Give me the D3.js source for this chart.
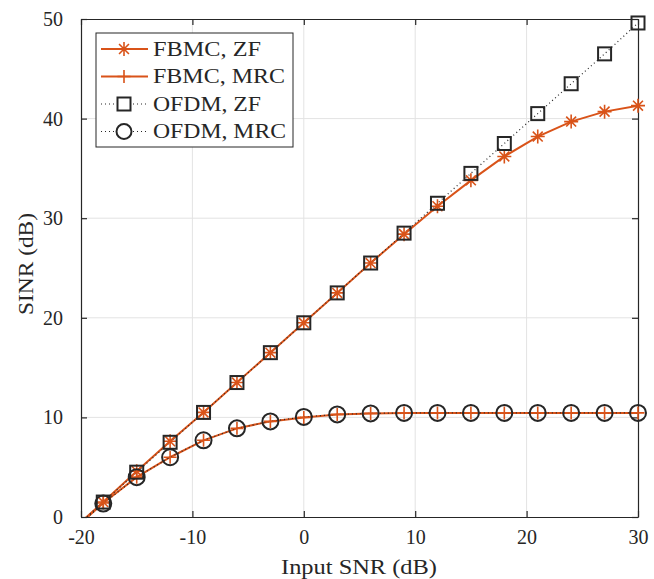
<!DOCTYPE html>
<html>
<head>
<meta charset="utf-8">
<script src="https://cdn.jsdelivr.net/npm/d3@7"></script>
<style>
  body { margin: 0; background: #fff; }
  text { font-family: "Liberation Serif", "DejaVu Serif", serif; fill: #262626; }
</style>
</head>
<body>
<script>
'use strict';

// input SNR (dB); first point has no marker, the line starts at the corner
const snr = [-20, -18, -15, -12, -9, -6, -3, 0, 3, 6, 9, 12, 15, 18, 21, 24, 27, 30];
const fbmcZF  = [-0.5, 1.5, 4.6, 7.6, 10.5, 13.5, 16.5, 19.5, 22.5, 25.5, 28.4, 31.2, 33.8, 36.2, 38.2, 39.7, 40.7, 41.3];
const fbmcMRC = [-0.6, 1.4, 4.0, 6.0, 7.7, 8.9, 9.6, 10.0, 10.3, 10.4, 10.45, 10.45, 10.45, 10.45, 10.45, 10.45, 10.45, 10.45];
const ofdmZF  = [-0.5, 1.5, 4.5, 7.5, 10.5, 13.5, 16.5, 19.5, 22.5, 25.5, 28.5, 31.5, 34.5, 37.5, 40.5, 43.5, 46.5, 49.6];
const ofdmMRC = [-0.6, 1.35, 4.0, 6.0, 7.7, 8.9, 9.6, 10.05, 10.3, 10.4, 10.45, 10.45, 10.45, 10.45, 10.45, 10.45, 10.45, 10.45];

const seriesNames = ["FBMC, ZF", "FBMC, MRC", "OFDM, ZF", "OFDM, MRC"];
const xTicks = [-20, -10, 0, 10, 20, 30];
const yTicks = [0, 10, 20, 30, 40, 50];

(function() {
  const orange = "#d95319";
  const dark = "#262626";

  const width = 654, height = 579;
  const mLeft = 81, mRight = 638, mTop = 19, mBottom = 517;

  const svg = d3.select("body").append("svg")
    .attr("width", width)
    .attr("height", height);

  const x = d3.scaleLinear().domain([-20, 30]).range([mLeft, mRight]);
  const y = d3.scaleLinear().domain([0, 50]).range([mBottom, mTop]);

  svg.append("defs").append("clipPath").attr("id", "clip")
    .append("rect")
    .attr("x", mLeft).attr("y", mTop)
    .attr("width", mRight - mLeft).attr("height", mBottom - mTop);

  // grid
  let grid = svg.append("g");
  grid.selectAll(".gx")
    .data(xTicks.slice(1, -1))
    .enter().append("line")
    .attr("x1", d => x(d)).attr("x2", d => x(d))
    .attr("y1", mTop).attr("y2", mBottom)
    .attr("stroke", "#e3e3e3").attr("stroke-width", 1);
  grid.selectAll(".gy")
    .data(yTicks.slice(1, -1))
    .enter().append("line")
    .attr("y1", d => y(d)).attr("y2", d => y(d))
    .attr("x1", mLeft).attr("x2", mRight)
    .attr("stroke", "#e3e3e3").attr("stroke-width", 1);

  // axes
  let fmt = d => String(d);
  let xAxis = d3.axisBottom(x).tickValues(xTicks).tickFormat(fmt).tickSizeInner(-6).tickSizeOuter(0).tickPadding(16);
  let yAxis = d3.axisLeft(y).tickValues(yTicks).tickFormat(fmt).tickSizeInner(-6).tickSizeOuter(0).tickPadding(18);

  let gx = svg.append("g").attr("transform", "translate(0," + mBottom + ")").call(xAxis);
  let gy = svg.append("g").attr("transform", "translate(" + mLeft + ",0)").call(yAxis);
  let gx2 = svg.append("g").attr("transform", "translate(0," + mTop + ")")
    .call(d3.axisTop(x).tickValues(xTicks).tickSizeInner(-6).tickSizeOuter(0).tickFormat(""));
  let gy2 = svg.append("g").attr("transform", "translate(" + mRight + ",0)")
    .call(d3.axisRight(y).tickValues(yTicks).tickSizeInner(-6).tickSizeOuter(0).tickFormat(""));

  [gx, gy, gx2, gy2].forEach(g => {
    g.select(".domain").attr("stroke", dark).attr("stroke-width", 1.2);
    g.selectAll(".tick line").attr("stroke", dark).attr("stroke-width", 1.2);
    g.selectAll(".tick text")
      .attr("font-size", 20)
      .attr("font-family", "Liberation Serif, DejaVu Serif, serif")
      .attr("fill", dark);
  });
  gx.selectAll(".tick text").attr("dy", "0.55em");

  svg.append("text")
    .attr("x", 281)
    .attr("y", 574)
    .attr("font-size", 20)
    .attr("textLength", 156)
    .attr("lengthAdjust", "spacingAndGlyphs")
    .text("Input SNR (dB)");
  svg.append("text")
    .attr("transform", "translate(33,315) rotate(-90)")
    .attr("font-size", 20)
    .attr("textLength", 102)
    .attr("lengthAdjust", "spacingAndGlyphs")
    .text("SINR (dB)");

  // marker drawing helpers
  function asterisk(g, cx, cy, s) {
    let p = "";
    for (let i = 0; i < 4; i++) {
      let a = i * Math.PI / 4;
      let dx = Math.sin(a) * s, dy = Math.cos(a) * s;
      p += "M" + (cx - dx) + "," + (cy - dy) + "L" + (cx + dx) + "," + (cy + dy);
    }
    g.append("path").attr("d", p).attr("stroke", orange).attr("stroke-width", 1.6).attr("fill", "none");
  }
  function plus(g, cx, cy, s) {
    g.append("path")
      .attr("d", "M" + (cx - s) + "," + cy + "L" + (cx + s) + "," + cy + "M" + cx + "," + (cy - s) + "L" + cx + "," + (cy + s))
      .attr("stroke", orange).attr("stroke-width", 1.6).attr("fill", "none");
  }
  function square(g, cx, cy, s) {
    g.append("rect").attr("x", cx - s).attr("y", cy - s).attr("width", 2 * s).attr("height", 2 * s)
      .attr("stroke", dark).attr("stroke-width", 2).attr("fill", "none");
  }
  function circle(g, cx, cy, s) {
    g.append("circle").attr("cx", cx).attr("cy", cy).attr("r", s)
      .attr("stroke", dark).attr("stroke-width", 2).attr("fill", "none");
  }

  const series = [
    { name: seriesNames[0], values: fbmcZF, color: orange, width: 2, dash: null, marker: asterisk, size: 7, tl: 108 },
    { name: seriesNames[1], values: fbmcMRC, color: orange, width: 2, dash: null, marker: plus, size: 6.5, tl: 132 },
    { name: seriesNames[2], values: ofdmZF, color: dark, width: 1.2, dash: "1,3", marker: square, size: 6.5, tl: 108 },
    { name: seriesNames[3], values: ofdmMRC, color: dark, width: 1.2, dash: "1,3", marker: circle, size: 8, tl: 133 }
  ];

  let line = d3.line().x(d => x(d[0])).y(d => y(d[1]));
  let plot = svg.append("g").attr("clip-path", "url(#clip)");
  let marks = svg.append("g");

  series.forEach(s => {
    let pts = snr.map((v, i) => [v, s.values[i]]);
    plot.append("path")
      .attr("d", line(pts))
      .attr("fill", "none")
      .attr("stroke", s.color)
      .attr("stroke-width", s.width)
      .attr("stroke-dasharray", s.dash);
    let mg = marks.append("g");
    pts.slice(1).forEach(p => s.marker(mg, x(p[0]), y(p[1]), s.size));
  });

  // legend
  let lg = svg.append("g");
  lg.append("rect")
    .attr("x", 96).attr("y", 33)
    .attr("width", 197).attr("height", 114)
    .attr("fill", "#fff").attr("stroke", dark).attr("stroke-width", 1);

  series.forEach((s, i) => {
    let ly = 49 + i * 27.5;
    lg.append("line")
      .attr("x1", 101).attr("x2", 148)
      .attr("y1", ly).attr("y2", ly)
      .attr("stroke", s.color)
      .attr("stroke-width", s.width)
      .attr("stroke-dasharray", s.dash);
    let mg = lg.append("g");
    if (s.marker === square) {
      mg.append("rect").attr("x", 118).attr("y", ly - 6).attr("width", 12).attr("height", 12).attr("fill", "#fff");
    } else if (s.marker === circle) {
      mg.append("circle").attr("cx", 124).attr("cy", ly).attr("r", 7.5).attr("fill", "#fff");
    }
    s.marker(mg, 124, ly, s.marker === circle ? 7.5 : s.size);
    lg.append("text")
      .attr("x", 153).attr("y", ly + 6.5)
      .attr("font-size", 20)
      .attr("textLength", s.tl)
      .attr("lengthAdjust", "spacingAndGlyphs")
      .text(s.name);
  });
})();
</script>
</body>
</html>
